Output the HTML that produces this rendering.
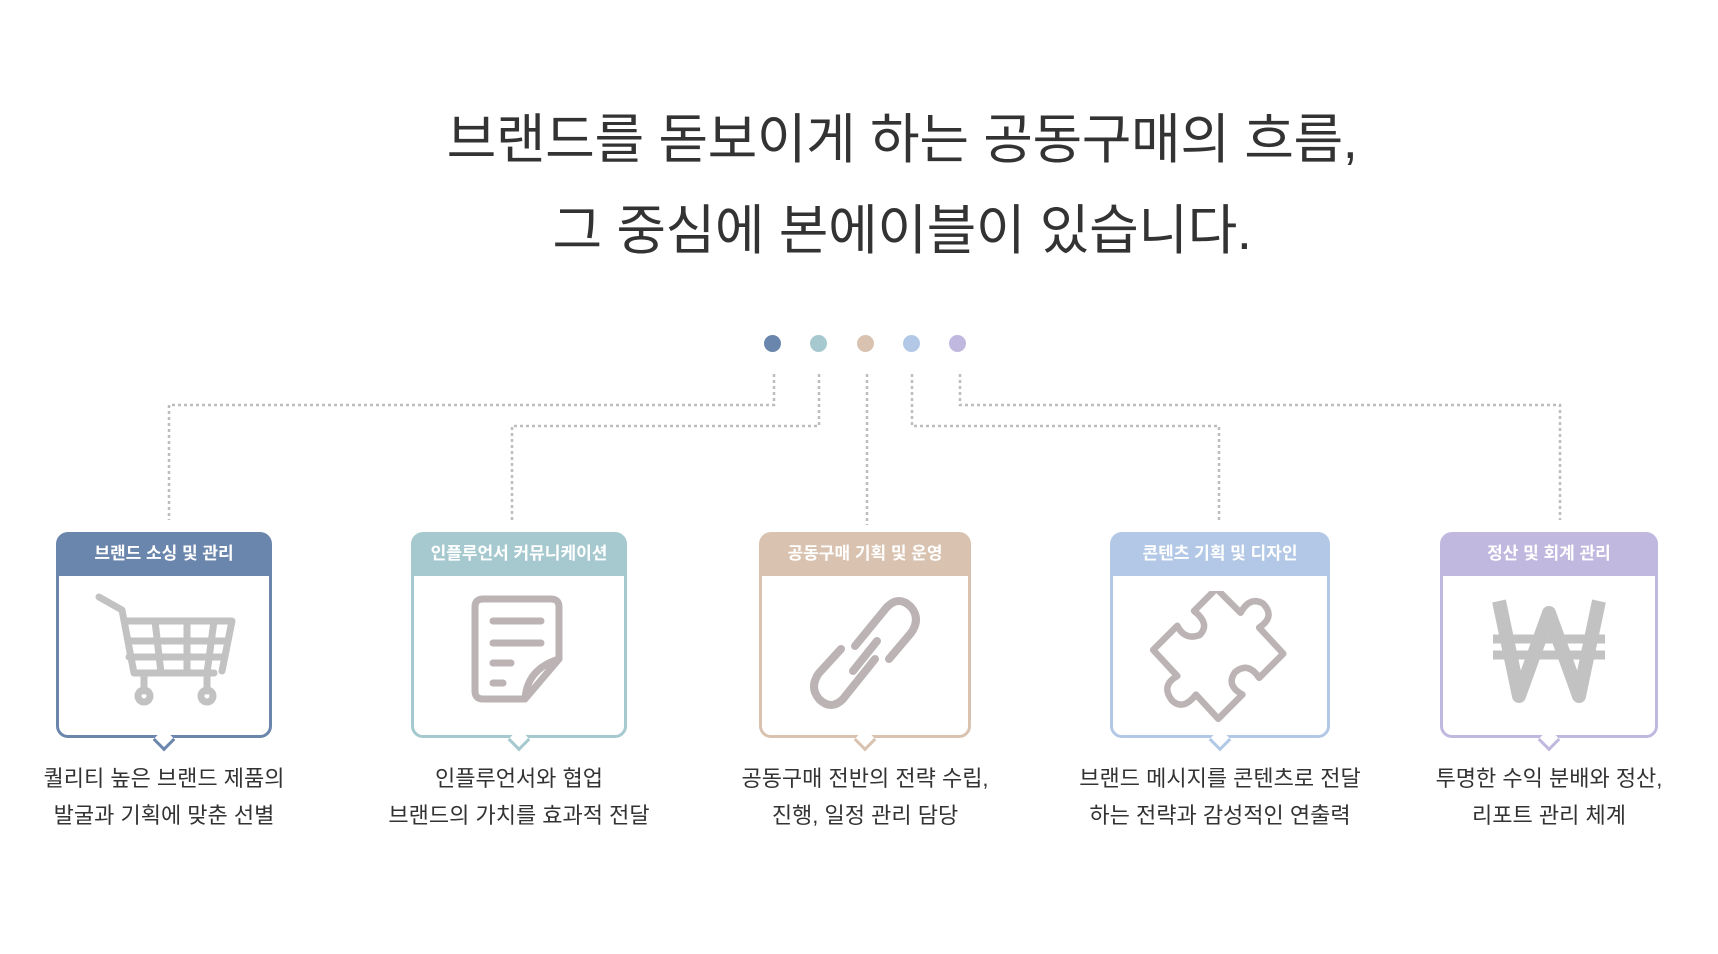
<!DOCTYPE html>
<html><head><meta charset="utf-8"><style>
*{margin:0;padding:0;box-sizing:border-box}
body{width:1718px;height:954px;background:#fff;position:relative;overflow:hidden;font-family:"Liberation Sans","Noto Sans CJK KR",sans-serif;color:#333}
.t{position:absolute;left:-8px;width:1820px;text-align:center;font-size:54px;color:#333;font-weight:400;letter-spacing:-0.4px;line-height:60px}
.dot{position:absolute;width:17px;height:17px;border-radius:50%;top:335px}
.card{position:absolute;top:532px;width:216px;height:206px;border:3px solid;border-radius:12px;background:#fff}
.card .h{height:42px;color:#fff;font-weight:bold;font-size:17px;text-align:center;line-height:40px;border-radius:8px 8px 0 0;margin:-1px -1px 0 -1px}
.card .tip{position:absolute;left:50%;bottom:-13px;width:16px;height:16px;background:#fff;border-right:3px solid;border-bottom:3px solid;transform:translateX(-50%) rotate(45deg)}
.card svg{position:absolute;left:50%;top:56px;transform:translateX(-50%)}
.d{position:absolute;top:760px;width:320px;text-align:center;font-size:22px;line-height:37px;color:#333}
</style></head><body>
<div class="t" style="top:110px">브랜드를 돋보이게 하는 공동구매의 흐름,</div>
<div class="t" style="top:201px">그 중심에 본에이블이 있습니다.</div>

<div class="dot" style="left:764px;background:#6b86ad"></div>
<div class="dot" style="left:810px;background:#a5c9ce"></div>
<div class="dot" style="left:857px;background:#d9c3b0"></div>
<div class="dot" style="left:903px;background:#b3c8e6"></div>
<div class="dot" style="left:949px;background:#c0b8de"></div>

<svg style="position:absolute;left:0;top:0" width="1718" height="954">
<g fill="none" stroke="#bdbdbd" stroke-width="2.5" stroke-dasharray="3 3">
<path d="M774 374 V405 H169 V520"/>
<path d="M819 374 V426 H512 V520"/>
<path d="M867 374 V525"/>
<path d="M912 374 V426 H1219 V520"/>
<path d="M960 374 V405 H1560 V520"/>
</g></svg>

<div class="card" style="left:56px;border-color:#6b86ad"><div class="h" style="background:#6b86ad">브랜드 소싱 및 관리</div><div class="tip" style="border-color:#6b86ad"></div>
<svg width="150" height="120" viewBox="0 0 150 120"><g fill="none" stroke="#c2c2c2" stroke-width="7" stroke-linecap="round" stroke-linejoin="round"><path d="M10 6 L33 19 L45 82 H125"/><path d="M36 30 H143 L133 80"/><path d="M40 50 H138 M40 66 H135 M66 30 L72 82 M98 30 L98 82 M125 30 L118 82"/><path d="M55 82 V100 M118 82 V100"/><circle cx="55" cy="105" r="6"/><circle cx="118" cy="105" r="6"/></g></svg></div>

<div class="card" style="left:411px;border-color:#a5c9ce"><div class="h" style="background:#a5c9ce">인플루언서 커뮤니케이션</div><div class="tip" style="border-color:#a5c9ce"></div>
<svg width="120" height="120" viewBox="0 0 120 120"><g fill="none" stroke="#bcb3b5" stroke-width="7" stroke-linecap="round" stroke-linejoin="round"><path d="M66 108 H24 Q16 108 16 100 V16 Q16 8 24 8 H92 Q100 8 100 16 V68 Z"/><path d="M66 108 Q68 78 100 68"/><path d="M34 30 H82 M34 52 H82 M34 72 H52 M34 92 H44"/></g></svg></div>

<div class="card" style="left:759px;border-color:#d9c3b0;width:212px"><div class="h" style="background:#d9c3b0">공동구매 기획 및 운영</div><div class="tip" style="border-color:#d9c3b0"></div>
<svg width="120" height="130" viewBox="0 0 120 130"><g fill="none" stroke="#bcb3b5" stroke-width="8" stroke-linecap="round"><path d="M50 55 L82 16 Q94 4 106 16 Q116 28 106 42 L84 68"/><path d="M70 68 L38 108 Q26 120 14 108 Q4 96 14 82 L36 58"/><path d="M48 80 L72 50"/></g></svg></div>

<div class="card" style="left:1110px;border-color:#b3c8e6;width:220px"><div class="h" style="background:#b3c8e6">콘텐츠 기획 및 디자인</div><div class="tip" style="border-color:#b3c8e6"></div>
<svg width="150" height="140" viewBox="0 0 150 140"><path fill="none" stroke="#bcb3b5" stroke-width="7" stroke-linejoin="round" d="M66 6 L92 32 Q102 14 116 22 Q130 36 112 48 L138 76 L112 102 Q100 84 86 96 Q76 110 94 120 L68 146 L44 120 Q30 138 18 126 Q6 110 24 100 L-2 72 L24 46 Q32 62 48 56 Q60 44 42 30 Z" transform="translate(10 -8) scale(0.93)"/></svg></div>

<div class="card" style="left:1440px;border-color:#c0b8de;width:218px"><div class="h" style="background:#c0b8de">정산 및 회계 관리</div><div class="tip" style="border-color:#c0b8de"></div>
<svg width="120" height="120" viewBox="0 0 120 120"><g fill="none" stroke="#c2c2c2" stroke-width="14" stroke-linejoin="round"><path d="M10 10 L30 105 L60 22 L90 105 L110 10"/></g><path d="M4 48 H116 M4 64 H116" stroke="#c2c2c2" stroke-width="9"/></svg></div>

<div class="d" style="left:4px">퀄리티 높은 브랜드 제품의<br>발굴과 기획에 맞춘 선별</div>
<div class="d" style="left:359px">인플루언서와 협업<br>브랜드의 가치를 효과적 전달</div>
<div class="d" style="left:705px">공동구매 전반의 전략 수립,<br>진행, 일정 관리 담당</div>
<div class="d" style="left:1060px">브랜드 메시지를 콘텐츠로 전달<br>하는 전략과 감성적인 연출력</div>
<div class="d" style="left:1389px">투명한 수익 분배와 정산,<br>리포트 관리 체계</div>
</body></html>
